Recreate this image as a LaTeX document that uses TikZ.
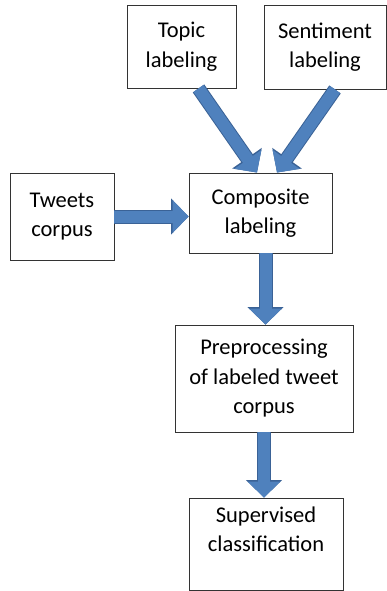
\documentclass[tikz,border=0pt]{standalone}
\usepackage{fontspec}
\setmainfont{Carlito}
\usepackage{xcolor}
\usetikzlibrary{arrows.meta}
\definecolor{flowblue}{HTML}{4F81BD}
\definecolor{flowedge}{HTML}{3A6296}

\begin{document}
\begin{tikzpicture}[x=1pt, y=-1pt,
    box/.style={draw=black!80, line width=0.9pt, fill=white, inner sep=0pt, align=center,
                font=\fontsize{22.5}{29.5}\selectfont},
    flow/.style={draw=flowblue, line width=12pt,
                 -{Triangle[width=32pt,length=16pt,fill=flowblue]},
                 preaction={draw=flowedge, line width=14pt,
                            -{Triangle[width=35pt,length=17.5pt,fill=flowedge]}}}]
    \useasboundingbox (0,0) rectangle (387,591);

    % --- labeling boxes ---
    \node[box, minimum width=109pt, minimum height=83pt] (topic) at (181.5,46.5) {Topic\\labeling};
    \node[box, minimum width=122pt, minimum height=84pt] (senti) at (325,47) {Sentiment\\labeling};
    \node[box, minimum width=104pt, minimum height=87pt] (tweets) at (62,216.5) {Tweets\\corpus};
    \node[box, minimum width=143pt, minimum height=80pt] (comp) at (260.5,213) {Composite\\labeling};

    % --- later stages ---
    \node[box, minimum width=178pt, minimum height=107pt] (prep) at (264,378.5) {Preprocessing\\of labeled tweet\\corpus};
    \node[box, minimum width=154pt, minimum height=92pt] (sup) at (266,544) {Supervised\\classification\\\mbox{}};

    % --- block arrows ---
    \draw[flow] ([xshift=17pt]topic.south) -- ([xshift=-3.5pt]comp.north);
    \draw[flow] ([xshift=10pt]senti.south) -- ([xshift=16.5pt]comp.north);
    \draw[flow] (tweets.east) -- (tweets.east -| comp.west);
    \draw[flow] ([xshift=5pt]comp.south) -- ([xshift=5pt]comp.south |- prep.north);
    \draw[flow] (prep.south) -- (prep.south |- sup.north);
\end{tikzpicture}
\end{document}
